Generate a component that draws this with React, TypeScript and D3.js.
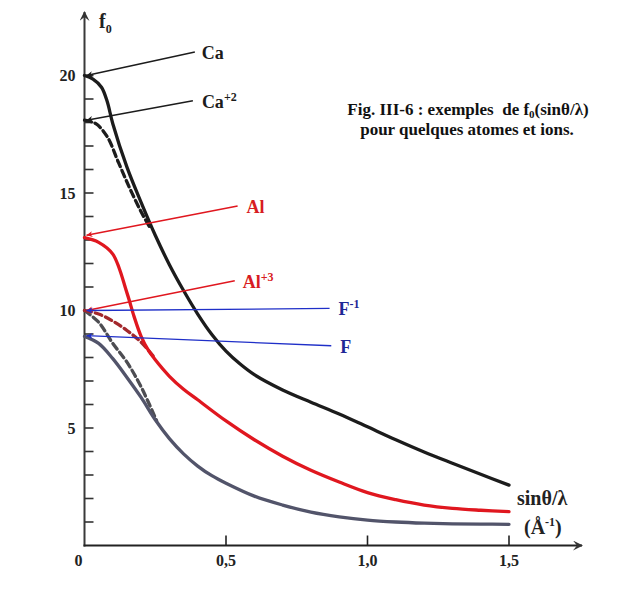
import React, { useEffect, useRef } from 'react';
import * as d3 from 'd3';

// sin(theta)/lambda sample points (Å^-1)
const sCa = [0, 0.03, 0.06, 0.08, 0.1, 0.15, 0.2, 0.25, 0.3, 0.35, 0.4, 0.45, 0.5, 0.55, 0.6, 0.7, 0.8, 0.9, 1.0, 1.1, 1.2, 1.3, 1.4, 1.5];
const fCa = [20.0, 19.85, 19.5, 18.9, 17.95, 16.1, 14.6, 13.2, 11.95, 10.85, 9.85, 8.98, 8.27, 7.72, 7.27, 6.62, 6.1, 5.6, 5.05, 4.5, 3.98, 3.5, 3.03, 2.57];

const sCa2 = [0, 0.04, 0.08, 0.12, 0.16, 0.2, 0.235];
const fCa2 = [18.1, 17.95, 17.4, 16.3, 15.2, 14.2, 13.45];

const sAl = [0, 0.05, 0.1, 0.15, 0.175, 0.2, 0.225, 0.25, 0.3, 0.35, 0.4, 0.5, 0.6, 0.7, 0.8, 0.9, 1.0, 1.1, 1.2, 1.3, 1.4, 1.5];
const fAl = [13.1, 12.9, 12.4, 10.75, 9.75, 8.9, 8.32, 7.9, 7.2, 6.65, 6.2, 5.3, 4.5, 3.8, 3.2, 2.7, 2.25, 1.95, 1.72, 1.58, 1.5, 1.44];

const sAl3 = [0, 0.05, 0.1, 0.15, 0.2, 0.25];
const fAl3 = [10.0, 9.85, 9.55, 9.15, 8.65, 7.95];

const sF = [0, 0.05, 0.1, 0.15, 0.2, 0.25, 0.3, 0.35, 0.4, 0.45, 0.5, 0.6, 0.7, 0.8, 0.9, 1.0, 1.1, 1.2, 1.3, 1.4, 1.5];
const fF = [8.9, 8.6, 7.95, 7.15, 6.3, 5.35, 4.55, 3.9, 3.38, 2.97, 2.65, 2.1, 1.72, 1.42, 1.22, 1.08, 1.0, 0.95, 0.92, 0.91, 0.9];

const sFm = [0, 0.05, 0.1, 0.15, 0.2, 0.255];
const fFm = [10.0, 9.5, 8.6, 7.8, 6.75, 5.3];

// labels: name, superscript, anchor (s, f) of the leader line, f0 it points to
const labelNames = ['Ca', 'Ca', 'Al', 'Al', 'F', 'F'];
const labelSup = ['', '+2', '', '+3', '-1', ''];
const labelS = [0.39, 0.383, 0.541, 0.531, 0.866, 0.872];
const labelF = [21.0, 18.93, 14.45, 11.27, 10.09, 8.5];
const labelTarget = [20.0, 18.1, 13.2, 10.0, 10.0, 8.93];

const xTicks = [0.5, 1.0, 1.5];
const xTickLabels = ['0,5', '1,0', '1,5'];
const yTickLabels = [5, 10, 15, 20];

const App = () => {
  const svgRef = useRef<SVGSVGElement>(null);

  useEffect(() => {
    const svg = d3.select(svgRef.current);
    svg.selectAll('*').remove();

    const serif = 'Liberation Serif, Times New Roman, DejaVu Serif, serif';
    const x = d3.scaleLinear().domain([0, 1.5]).range([84.5, 509]);
    const y = d3.scaleLinear().domain([0, 20]).range([545.5, 75.5]);

    const colors = {
      black: '#1c1c1c',
      red: '#e0171f',
      darkRed: '#a3282c',
      grey: '#4d4d52',
      slate: '#52546a',
      blue: '#1f2fc8',
      textBlue: '#1f2796',
      textRed: '#d81c22',
    };
    const lineColors = [colors.black, colors.black, colors.red, colors.red, colors.blue, colors.blue];
    const textColors = [colors.black, colors.black, colors.textRed, colors.textRed, colors.textBlue, colors.textBlue];
    const textGap = [7, 9, 9, 8, 9, 9];

    // arrowheads
    const defs = svg.append('defs');
    ['black', 'red', 'blue'].forEach((k, i) => {
      const c = [colors.black, colors.red, colors.blue][i];
      defs
        .append('marker')
        .attr('id', `arr-${k}`)
        .attr('viewBox', '0 0 10 10')
        .attr('refX', 10)
        .attr('refY', 5)
        .attr('markerWidth', 9)
        .attr('markerHeight', 6)
        .attr('markerUnits', 'userSpaceOnUse')
        .attr('orient', 'auto')
        .append('path')
        .attr('d', 'M0,0 L10,5 L0,10 L3,5 Z')
        .attr('fill', c);
    });
    defs
      .append('marker')
      .attr('id', 'axis-arrow')
      .attr('viewBox', '0 0 10 10')
      .attr('refX', 9)
      .attr('refY', 5)
      .attr('markerWidth', 12)
      .attr('markerHeight', 10)
      .attr('markerUnits', 'userSpaceOnUse')
      .attr('orient', 'auto')
      .append('path')
      .attr('d', 'M0,0 L10,5 L0,10 L4,5 Z')
      .attr('fill', '#333');

    // axes
    svg
      .append('line')
      .attr('x1', x(0))
      .attr('x2', x(0))
      .attr('y1', y(0) + 1)
      .attr('y2', 12)
      .attr('stroke', '#3a3a3a')
      .attr('stroke-width', 2)
      .attr('marker-end', 'url(#axis-arrow)');
    svg
      .append('line')
      .attr('x1', x(0) - 1)
      .attr('x2', 582)
      .attr('y1', y(0))
      .attr('y2', y(0))
      .attr('stroke', '#222')
      .attr('stroke-width', 2)
      .attr('marker-end', 'url(#axis-arrow)');

    svg
      .append('g')
      .selectAll('line')
      .data(d3.range(1, 21))
      .join('line')
      .attr('x1', x(0))
      .attr('x2', x(0) + 9)
      .attr('y1', (d) => y(d))
      .attr('y2', (d) => y(d))
      .attr('stroke', '#333')
      .attr('stroke-width', 1.6);

    svg
      .append('g')
      .selectAll('line')
      .data(xTicks)
      .join('line')
      .attr('x1', (d) => x(d))
      .attr('x2', (d) => x(d))
      .attr('y1', y(0))
      .attr('y2', y(0) - 10)
      .attr('stroke', '#222')
      .attr('stroke-width', 1.6);

    svg
      .append('g')
      .selectAll('text')
      .data(yTickLabels)
      .join('text')
      .attr('x', x(0) - 9)
      .attr('y', (d) => y(d) + 5.5)
      .attr('text-anchor', 'end')
      .attr('font-family', serif)
      .attr('font-weight', 'bold')
      .attr('font-size', 16)
      .attr('fill', '#222')
      .text((d) => d);

    svg
      .append('g')
      .selectAll('text')
      .data(xTicks)
      .join('text')
      .attr('x', (d) => x(d))
      .attr('y', y(0) + 20)
      .attr('text-anchor', 'middle')
      .attr('font-family', serif)
      .attr('font-weight', 'bold')
      .attr('font-size', 16)
      .attr('fill', '#222')
      .text((_, i) => xTickLabels[i]);

    svg
      .append('text')
      .attr('x', x(0) - 6)
      .attr('y', y(0) + 20)
      .attr('text-anchor', 'middle')
      .attr('font-family', serif)
      .attr('font-weight', 'bold')
      .attr('font-size', 16)
      .attr('fill', '#222')
      .text('0');

    // axis titles
    const fTitle = svg
      .append('text')
      .attr('x', 99)
      .attr('y', 28)
      .attr('font-family', serif)
      .attr('font-weight', 'bold')
      .attr('font-size', 20)
      .attr('fill', '#222');
    fTitle.append('tspan').text('f');
    fTitle.append('tspan').attr('font-size', 12).attr('dy', 5).text('0');

    svg
      .append('text')
      .attr('x', 517)
      .attr('y', 505)
      .attr('font-family', serif)
      .attr('font-weight', 'bold')
      .attr('font-size', 20)
      .attr('fill', '#222')
      .text('sinθ/λ');
    const unit = svg
      .append('text')
      .attr('x', 524)
      .attr('y', 534)
      .attr('font-family', serif)
      .attr('font-weight', 'bold')
      .attr('font-size', 20)
      .attr('fill', '#222');
    unit.append('tspan').text('(Å');
    unit.append('tspan').attr('font-size', 12).attr('dy', -8).text('-1');
    unit.append('tspan').attr('dy', 8).text(')');

    // curves
    const line = d3
      .line<[number, number]>()
      .x((d) => x(d[0]))
      .y((d) => y(d[1]))
      .curve(d3.curveCatmullRom.alpha(0.5));
    const series = [
      { s: sFm, f: fFm, color: colors.grey, dash: '7 4' },
      { s: sF, f: fF, color: colors.slate, dash: null },
      { s: sAl3, f: fAl3, color: colors.darkRed, dash: '7 4' },
      { s: sAl, f: fAl, color: colors.red, dash: null },
      { s: sCa2, f: fCa2, color: colors.black, dash: '7 4' },
      { s: sCa, f: fCa, color: colors.black, dash: null },
    ];
    series.forEach((ser) => {
      svg
        .append('path')
        .attr('d', line(ser.s.map((v, i) => [v, ser.f[i]] as [number, number])))
        .attr('fill', 'none')
        .attr('stroke', ser.color)
        .attr('stroke-width', 3.3)
        .attr('stroke-linecap', 'round')
        .attr('stroke-dasharray', ser.dash);
    });

    // leader lines with arrows
    const markers = ['black', 'black', 'red', 'red', 'blue', 'blue'];
    labelNames.forEach((name, i) => {
      const blue = i >= 4;
      svg
        .append('line')
        .attr('x1', x(labelS[i]))
        .attr('y1', y(labelF[i]))
        .attr('x2', x(0) + 2)
        .attr('y2', y(labelTarget[i]))
        .attr('stroke', lineColors[i])
        .attr('stroke-width', blue ? 1.3 : 1.5)
        .attr('marker-end', `url(#arr-${markers[i]})`);
      const t = svg
        .append('text')
        .attr('x', x(labelS[i]) + textGap[i])
        .attr('y', y(labelF[i]) + 7)
        .attr('font-family', serif)
        .attr('font-weight', 'bold')
        .attr('font-size', 18)
        .attr('fill', textColors[i]);
      t.append('tspan').text(name);
      if (labelSup[i]) t.append('tspan').attr('font-size', 12).attr('dy', -7).text(labelSup[i]);
    });

    // caption
    const cap = svg
      .append('text')
      .attr('x', 468)
      .attr('y', 115)
      .attr('text-anchor', 'middle')
      .attr('font-family', serif)
      .attr('font-weight', 'bold')
      .attr('font-size', 17)
      .attr('fill', '#111');
    cap.append('tspan').text('Fig. III-6 : exemples\u00a0 de f');
    cap.append('tspan').attr('font-size', 11).attr('dy', 3).text('0');
    cap.append('tspan').attr('dy', -3).text('(sinθ/λ)');
    svg
      .append('text')
      .attr('x', 467)
      .attr('y', 135)
      .attr('text-anchor', 'middle')
      .attr('font-family', serif)
      .attr('font-weight', 'bold')
      .attr('font-size', 17)
      .attr('fill', '#111')
      .text('pour quelques atomes et ions.');
  }, []);

  return (
    <svg
      ref={svgRef}
      width={643}
      height={612}
      style={{ position: 'absolute', left: 0, top: 0, background: '#fff' }}
    />
  );
};

export default App;
